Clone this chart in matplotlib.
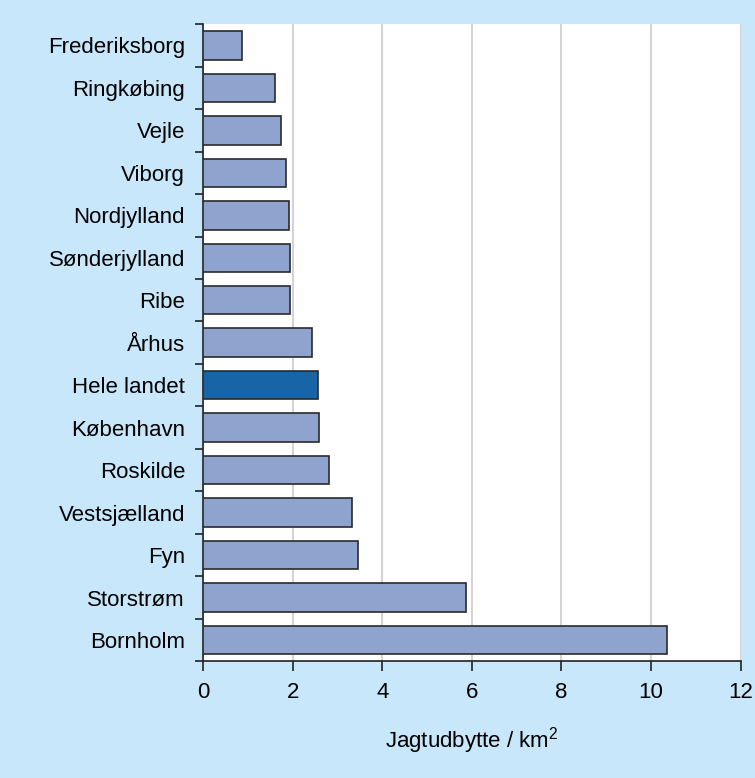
import numpy as np
import matplotlib.pyplot as plt

regions = ['Frederiksborg', 'Ringkøbing', 'Vejle', 'Viborg', 'Nordjylland',
           'Sønderjylland', 'Ribe', 'Århus', 'Hele landet', 'København',
           'Roskilde', 'Vestsjælland', 'Fyn', 'Storstrøm', 'Bornholm']
values = [0.86, 1.61, 1.73, 1.85, 1.92, 1.94, 1.94, 2.43, 2.56, 2.58,
          2.82, 3.32, 3.45, 5.88, 10.36]
highlight = 'Hele landet'

bg = '#c8e7fa'
bar_col = '#8fa3cf'
hi_col = '#1764a7'

plt.rcParams['font.family'] = ['Liberation Sans', 'DejaVu Sans']

fig = plt.figure(figsize=(7.55, 7.78), dpi=100, facecolor=bg)
ax = fig.add_axes([0.269, 0.150, 0.712, 0.819])
ax.set_facecolor('white')

y = np.arange(len(regions))
colors = [hi_col if r == highlight else bar_col for r in regions]
ax.barh(y, values, height=0.67, color=colors, edgecolor='#2a2a2a', linewidth=1.2, zorder=3)

ax.set_ylim(len(regions) - 0.5, -0.5)
ax.set_xlim(0, 12)
ax.set_xticks(range(0, 13, 2))
ax.set_yticks(y)
ax.set_yticklabels(regions)
ax.set_yticks(np.arange(-0.5, len(regions), 1), minor=True)
ax.tick_params(axis='y', which='major', length=0, labelsize=16, pad=13)
ax.tick_params(axis='y', which='minor', length=6, width=1.2, color='#222222', direction='out')
ax.tick_params(axis='x', length=7, width=1.2, color='#222222', labelsize=16, pad=8)

ax.grid(axis='x', color='#d4d4d4', linewidth=1.5, zorder=0)
for s in ['top', 'right']:
    ax.spines[s].set_visible(False)
for s in ['left', 'bottom']:
    ax.spines[s].set_color('#222222')
    ax.spines[s].set_linewidth(1.2)

ax.set_xlabel('Jagtudbytte / km$\\mathregular{^2}$', fontsize=16, labelpad=16)

fig.savefig('out.png', dpi=100, facecolor=bg)
